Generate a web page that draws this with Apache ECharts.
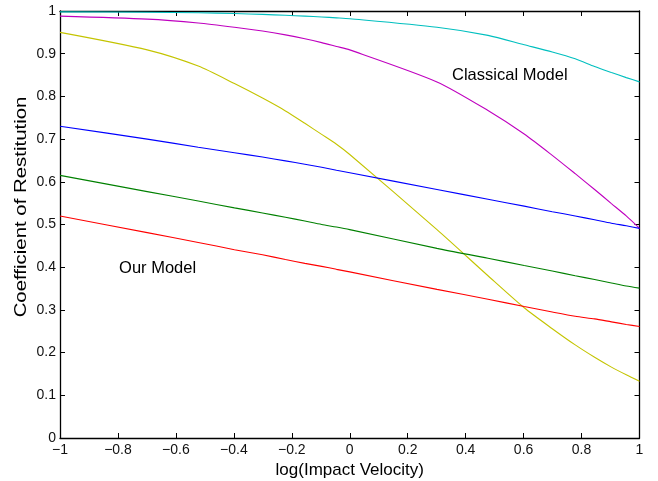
<!DOCTYPE html>
<html>
<head>
<meta charset="utf-8">
<script src="https://cdn.jsdelivr.net/npm/echarts@6/dist/echarts.min.js"></script>
<style>
  html, body { margin: 0; padding: 0; background: #fff; }
  #chart { width: 658px; height: 481px; }
</style>
</head>
<body>
<div id="chart"></div>
<script>
// Impact velocities sampled (x axis shows their base-10 log)
const velocity = [0.1, 0.2, 0.3, 0.4, 0.5, 0.6, 0.7, 0.8, 0.9, 1, 2, 3, 4, 5, 6, 7, 8, 9, 10];

// Classical model curves
const classicalCyan = [0.998, 0.997, 0.996, 0.994, 0.992, 0.990, 0.988, 0.986, 0.984, 0.982, 0.962, 0.943, 0.921, 0.904, 0.888, 0.870, 0.856, 0.844, 0.834];
const classicalMagenta = [0.988, 0.981, 0.972, 0.962, 0.953, 0.944, 0.935, 0.926, 0.917, 0.909, 0.834, 0.767, 0.712, 0.662, 0.619, 0.582, 0.549, 0.520, 0.491];
const classicalYellow = [0.950, 0.909, 0.871, 0.830, 0.796, 0.766, 0.737, 0.711, 0.688, 0.664, 0.488, 0.380, 0.305, 0.256, 0.218, 0.189, 0.166, 0.148, 0.133];

// Our model curves
const oursBlue = [0.730, 0.700, 0.681, 0.668, 0.658, 0.649, 0.641, 0.634, 0.627, 0.621, 0.582, 0.559, 0.543, 0.530, 0.520, 0.511, 0.503, 0.497, 0.491];
const oursGreen = [0.615, 0.577, 0.555, 0.539, 0.527, 0.517, 0.508, 0.500, 0.494, 0.488, 0.444, 0.421, 0.404, 0.391, 0.380, 0.371, 0.363, 0.356, 0.351];
const oursRed = [0.520, 0.481, 0.458, 0.441, 0.429, 0.418, 0.409, 0.402, 0.395, 0.389, 0.348, 0.325, 0.308, 0.295, 0.285, 0.279, 0.272, 0.266, 0.261];

const xTicks = [-1, -0.8, -0.6, -0.4, -0.2, 0, 0.2, 0.4, 0.6, 0.8, 1];
const yTicks = [0, 0.1, 0.2, 0.3, 0.4, 0.5, 0.6, 0.7, 0.8, 0.9, 1];

const FONT = '"Liberation Sans", Arial, Helvetica, sans-serif';
const logV = velocity.map(v => Math.log10(v));
const pairs = ys => logV.map((x, i) => [x, ys[i]]);
const fmt = v => {
  const r = Math.round(v * 10) / 10;
  return String(r).replace('-', '\u2212');
};

const curves = [
  { data: classicalCyan, color: '#00bfbf' },
  { data: classicalMagenta, color: '#bf00bf' },
  { data: classicalYellow, color: '#c4c400' },
  { data: oursBlue, color: '#0000ff' },
  { data: oursGreen, color: '#008000' },
  { data: oursRed, color: '#ff0000' }
];

const frameAxis = () => ({
  axisLine: { show: true, onZero: false, lineStyle: { color: '#000', width: 1.3 } },
  axisTick: { show: true, inside: true, length: 5, lineStyle: { color: '#000', width: 1 } },
  splitLine: { show: false }
});

const chart = echarts.init(document.getElementById('chart'), null, { renderer: 'canvas' });
chart.setOption({
  animation: false,
  backgroundColor: '#fff',
  grid: { left: 60, right: 18.5, top: 11, bottom: 43, containLabel: false, outerBoundsMode: 'none' },
  xAxis: [
    Object.assign({
      type: 'value', min: xTicks[0], max: xTicks[xTicks.length - 1], interval: 0.2,
      position: 'bottom',
      name: 'log(Impact Velocity)', nameLocation: 'middle', nameGap: 22,
      nameTextStyle: { fontFamily: FONT, fontSize: 17, color: '#000' },
      axisLabel: { formatter: fmt, fontFamily: FONT, fontSize: 14, color: '#111', margin: 5 }
    }, frameAxis()),
    Object.assign({
      type: 'value', min: xTicks[0], max: xTicks[xTicks.length - 1], interval: 0.2,
      position: 'top', axisLabel: { show: false }
    }, frameAxis())
  ],
  yAxis: [
    Object.assign({
      type: 'value', min: yTicks[0], max: yTicks[yTicks.length - 1], interval: 0.1,
      position: 'left',
      axisLabel: { formatter: fmt, fontFamily: FONT, fontSize: 14, color: '#111', margin: 4 }
    }, frameAxis()),
    Object.assign({
      type: 'value', min: yTicks[0], max: yTicks[yTicks.length - 1], interval: 0.1,
      position: 'right', axisLabel: { show: false }
    }, frameAxis())
  ],
  series: curves.map(c => ({
    type: 'line',
    data: pairs(c.data),
    showSymbol: false,
    symbol: 'none',
    smooth: 0.25,
    lineStyle: { color: c.color, width: 1.1 },
    itemStyle: { color: c.color },
    z: 3
  }))
});

// Annotations positioned in data coordinates
const cm = chart.convertToPixel({ xAxisIndex: 0, yAxisIndex: 0 }, [0.353, 0.85]);
const om = chart.convertToPixel({ xAxisIndex: 0, yAxisIndex: 0 }, [-0.796, 0.398]);
chart.setOption({
  graphic: [
    { type: 'text', x: cm[0], y: cm[1], style: { text: 'Classical Model', fontFamily: FONT, fontSize: 16.5, fill: '#000', textAlign: 'left', textVerticalAlign: 'middle' } },
    { type: 'text', x: om[0], y: om[1], style: { text: 'Our Model', fontFamily: FONT, fontSize: 16.5, fill: '#000', textAlign: 'left', textVerticalAlign: 'middle' } },
    { type: 'text', x: 21, y: 207, rotation: Math.PI / 2, scaleX: 1.2, scaleY: 1, style: { text: 'Coefficient of Restitution', fontFamily: FONT, fontSize: 17, fill: '#000', textAlign: 'center', textVerticalAlign: 'middle' } }
  ]
});
</script>
</body>
</html>
